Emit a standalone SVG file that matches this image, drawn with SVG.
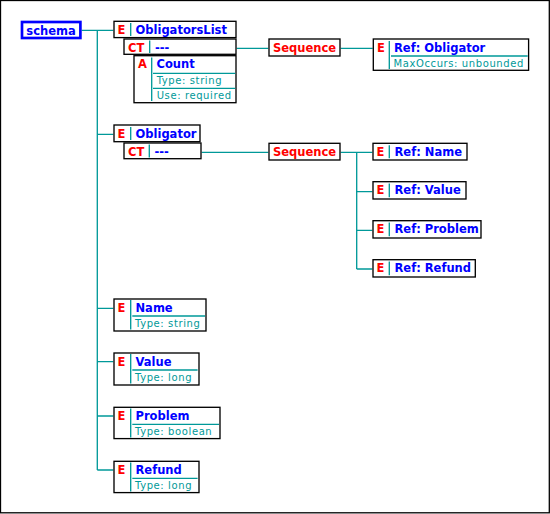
<svg xmlns="http://www.w3.org/2000/svg" width="550" height="514" viewBox="0 0 550 514">
<style>
.box{fill:#fff;stroke:#000;stroke-width:1.33}
.sch{fill:#fff;stroke:#0000ff;stroke-width:2.67}
.b{font-family:"DejaVu Sans",Verdana,sans-serif;font-weight:bold;font-size:11.5px}
.blue{fill:#0000ff}
.red{fill:#ff0000}
.sm{font-family:"DejaVu Sans",Verdana,sans-serif;font-size:10px;letter-spacing:0.6px;fill:#009999}
.tl{stroke:#009999;stroke-width:1.33;fill:none}
.mid{text-anchor:middle}
</style>
<rect x="0.5" y="0.5" width="548.8" height="512.3" fill="#fff" stroke="#000" stroke-width="1.3"/>
<g id="connectors" class="tl">
<path d="M81.7 30.3H113.3M97.3 30.3V470M97.3 134.3H113.3M97.3 308.3H113.3M97.3 361.7H113.3M97.3 416H113.3M97.3 470H113.3"/>
<path d="M236.7 48.3H268.3M340.7 48.3H372.7"/>
<path d="M201.7 152.3H268.3M340.7 152.3H372.3M356.7 152.3V269M356.7 191.7H372.3M356.7 230.3H372.3M356.7 269H372.3"/>
</g>
<g id="schema">
<rect class="sch" x="22" y="22" width="58.4" height="16"/>
<text class="b blue mid" x="51" y="34.5">schema</text>
</g>
<g id="ObligatorsList">
<rect class="box" x="114" y="21.3" width="122" height="16.3"/>
<text class="b red" x="117.5" y="34">E</text>
<path class="tl" d="M130.7 23V36"/>
<text class="b blue" x="135.5" y="34">ObligatorsList</text>
</g>
<g id="ObligatorsList-CT">
<rect class="box" x="124" y="39" width="112" height="15.3"/>
<text class="b red" x="128" y="51.5">CT</text>
<path class="tl" d="M149.7 40.5V53"/>
<text class="b blue" x="155" y="51.5">---</text>
</g>
<g id="Count">
<rect class="box" x="134" y="55.7" width="102" height="47"/>
<text class="b red" x="138" y="68.3">A</text>
<path class="tl" d="M151.7 57.5V101M153 73.3H235.3M153 88.3H235.3"/>
<text class="b blue" x="156.5" y="68.3">Count</text>
<text class="sm" x="156.7" y="84">Type: string</text>
<text class="sm" x="156.7" y="99">Use: required</text>
</g>
<g id="Sequence1">
<rect class="box" x="269" y="39" width="71" height="17"/>
<text class="b red mid" x="304.5" y="51.7">Sequence</text>
</g>
<g id="RefObligator">
<rect class="box" x="373.3" y="39" width="155.3" height="31.3"/>
<text class="b red" x="377" y="51.7">E</text>
<path class="tl" d="M389.3 41V69M391 56H527.7"/>
<text class="b blue" x="394" y="51.7">Ref: Obligator</text>
<text class="sm" x="393.5" y="66.7">MaxOccurs: unbounded</text>
</g>
<g id="Obligator">
<rect class="box" x="114" y="125" width="86" height="16.7"/>
<text class="b red" x="117.5" y="137.7">E</text>
<path class="tl" d="M130.7 127V140"/>
<text class="b blue" x="135.5" y="137.7">Obligator</text>
</g>
<g id="Obligator-CT">
<rect class="box" x="124" y="143" width="77" height="15.7"/>
<text class="b red" x="128" y="155.6">CT</text>
<path class="tl" d="M149.3 144.5V157.5"/>
<text class="b blue" x="154.5" y="155.6">---</text>
</g>
<g id="Sequence2">
<rect class="box" x="269" y="143.3" width="71" height="16.7"/>
<text class="b red mid" x="304.5" y="156">Sequence</text>
</g>
<g id="RefName">
<rect class="box" x="373" y="143.3" width="94" height="16.7"/>
<text class="b red" x="376.5" y="156">E</text>
<path class="tl" d="M389.3 145.2V158.2"/>
<text class="b blue" x="394.5" y="156">Ref: Name</text>
</g>
<g id="RefValue">
<rect class="box" x="373" y="181.7" width="93" height="17.3"/>
<text class="b red" x="376.5" y="194.4">E</text>
<path class="tl" d="M389.3 183.5V197.2"/>
<text class="b blue" x="394.5" y="194.4">Ref: Value</text>
</g>
<g id="RefProblem">
<rect class="box" x="373" y="220.7" width="108" height="17.3"/>
<text class="b red" x="376.5" y="233.4">E</text>
<path class="tl" d="M389.3 222.5V236.2"/>
<text class="b blue" x="394.5" y="233.4">Ref: Problem</text>
</g>
<g id="RefRefund">
<rect class="box" x="373" y="259.7" width="102.3" height="17.3"/>
<text class="b red" x="376.5" y="272.4">E</text>
<path class="tl" d="M389.3 261.5V275.2"/>
<text class="b blue" x="394.5" y="272.4">Ref: Refund</text>
</g>
<g id="Name">
<rect class="box" x="114" y="299" width="92" height="32"/>
<text class="b red" x="117.5" y="311.7">E</text>
<path class="tl" d="M130.7 300V329.4M132.3 316H205"/>
<text class="b blue" x="135.5" y="311.7">Name</text>
<text class="sm" x="135" y="326.7">Type: string</text>
</g>
<g id="Value">
<rect class="box" x="114" y="353" width="85" height="32"/>
<text class="b red" x="117.5" y="365.7">E</text>
<path class="tl" d="M130.7 354V383.4M132.3 370H197.6"/>
<text class="b blue" x="135.5" y="365.7">Value</text>
<text class="sm" x="135" y="380.7">Type: long</text>
</g>
<g id="Problem">
<rect class="box" x="114" y="407.3" width="106" height="31.3"/>
<text class="b red" x="117.5" y="420.1">E</text>
<path class="tl" d="M130.7 408.4V437.4M132.3 424.4H219"/>
<text class="b blue" x="135.5" y="420.1">Problem</text>
<text class="sm" x="135" y="435.1">Type: boolean</text>
</g>
<g id="Refund">
<rect class="box" x="114" y="461.3" width="85" height="31.3"/>
<text class="b red" x="117.5" y="474.1">E</text>
<path class="tl" d="M130.7 462.4V491.4M132.3 478.4H197.6"/>
<text class="b blue" x="135.5" y="474.1">Refund</text>
<text class="sm" x="135" y="489.1">Type: long</text>
</g>
</svg>
